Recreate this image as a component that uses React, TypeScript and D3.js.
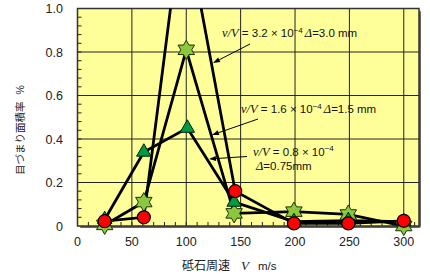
import React from "react";
import * as d3 from "d3";

// ---- data ----
const speedsCircle = [25, 61, 97, 145, 199, 249, 300];
const valuesCircle = [0.022, 0.04, 1.45, 0.16, 0.012, 0.012, 0.024]; // Δ=3.0 mm
const speedsStar = [25, 61, 100, 144, 199, 249, 300];
const valuesStar = [0.005, 0.11, 0.81, 0.058, 0.066, 0.053, 0.0]; // Δ=1.5 mm
const speedsTri = [25, 61, 101, 144, 199, 249, 300];
const valuesTri = [0.03, 0.34, 0.45, 0.11, 0.02, 0.025, 0.02]; // Δ=0.75 mm
const xTicks = [0, 50, 100, 150, 200, 250, 300];
const yTicks = [0, 0.2, 0.4, 0.6, 0.8, 1.0];
const yTickLabels = ["0", "0.2", "0.4", "0.6", "0.8", "1.0"];

const W = 430, H = 279;
const L = 77.5, R = 419, T = 8.5, B = 226;

function starPath(Ro: number) {
  const ri = Ro / Math.sqrt(3);
  const pts: [number, number][] = [];
  for (let i = 0; i < 12; i++) {
    const a = (Math.PI / 6) * i - Math.PI / 2;
    const r = i % 2 === 0 ? Ro : ri;
    pts.push([r * Math.cos(a), r * Math.sin(a)]);
  }
  return "M" + pts.map((p) => p.join(",")).join("L") + "Z";
}

export default function App() {
  const x = d3.scaleLinear().domain([0, 314]).range([L, R]);
  const y = d3.scaleLinear().domain([0, 1]).range([B, T]);
  const line = d3.line<[number, number]>().x((d) => x(d[0])).y((d) => y(d[1]));
  const zip = (a: number[], b: number[]) => a.map((v, i) => [v, b[i]] as [number, number]);
  const circ = zip(speedsCircle, valuesCircle);
  const star = zip(speedsStar, valuesStar);
  const tri = zip(speedsTri, valuesTri);
  const minorY = d3.range(0.04, 1.0, 0.04);
  const minorX = d3.range(10, 311, 10);
  const triPath = d3.symbol().type(d3.symbolTriangle).size(90)() as string;
  const sp = starPath(9.5);
  const sans = "Arial, 'Liberation Sans', sans-serif";
  const serif = "'Liberation Serif', 'DejaVu Serif', serif";

  const arrow = (x1: number, y1: number, x2: number, y2: number) => {
    const ang = Math.atan2(y2 - y1, x2 - x1);
    const len = 7, wd = 2.5;
    const bx = x2 - len * Math.cos(ang), by = y2 - len * Math.sin(ang);
    const px = -Math.sin(ang) * wd, py = Math.cos(ang) * wd;
    return (
      <g>
        <line x1={x1} y1={y1} x2={bx} y2={by} stroke="#000" strokeWidth={1} />
        <path d={`M${x2},${y2}L${bx + px},${by + py}L${bx - px},${by - py}Z`} fill="#000" />
      </g>
    );
  };

  return (
    <svg width={W} height={H} style={{ position: "absolute", left: 0, top: 0, background: "#fff" }}>
      <defs>
        <clipPath id="plot">
          <rect x={L} y={T} width={R - L} height={B - T} />
        </clipPath>
      </defs>
      {/* shadow + background */}
      <rect x={L + 2} y={T + 2} width={R - L} height={B - T} fill="#666" rx={2} />
      <rect x={L} y={T} width={R - L} height={B - T} fill="#FFFF99" />
      {/* grid */}
      {xTicks.filter((t) => t > 0).map((t) => (
        <line key={"gx" + t} x1={x(t)} x2={x(t)} y1={T} y2={B} stroke="#222" strokeWidth={1} />
      ))}
      {yTicks.filter((t) => t > 0 && t < 1).map((t) => (
        <line key={"gy" + t} x1={L} x2={R} y1={y(t)} y2={y(t)} stroke="#222" strokeWidth={1} />
      ))}
      {/* minor ticks */}
      {minorY.map((t) => (
        <line key={"my" + t} x1={L} x2={L + 4} y1={y(t)} y2={y(t)} stroke="#222" strokeWidth={1} />
      ))}
      {minorX.map((t) => (
        <line key={"mx" + t} x1={x(t)} x2={x(t)} y1={B} y2={B - 4} stroke="#222" strokeWidth={1} />
      ))}
      <rect x={L} y={T} width={R - L} height={B - T} fill="none" stroke="#333" strokeWidth={1.5} />
      {/* data lines */}
      <g clipPath="url(#plot)" fill="none" stroke="#000" strokeWidth={2.8} strokeLinejoin="miter">
        <path d={line(circ) as string} />
        <path d={line(star) as string} />
        <path d={line(tri) as string} />
      </g>
      {/* markers */}
      {star.map((d, i) => (
        <path key={"s" + i} d={sp} transform={`translate(${x(d[0])},${y(d[1])})`} fill="#8DC63F" stroke="#1a3300" strokeWidth={1} />
      ))}
      {tri.map((d, i) => (
        <path key={"t" + i} d={triPath} transform={`translate(${x(d[0])},${y(d[1])})`} fill="#009944" stroke="#002200" strokeWidth={1} />
      ))}
      {circ.filter((d) => d[1] <= 1).map((d, i) => (
        <circle key={"c" + i} cx={x(d[0])} cy={y(d[1])} r={6.5} fill="#FF0000" stroke="#000" strokeWidth={1.2} />
      ))}
      {/* tick labels */}
      {xTicks.map((t) => (
        <text key={"xl" + t} x={x(t)} y={246} textAnchor="middle" fontFamily={sans} fontSize={12.5} fill="#222">{t}</text>
      ))}
      {yTicks.map((t, i) => (
        <text key={"yl" + t} x={63} y={y(t) + 4.5} textAnchor="end" fontFamily={sans} fontSize={12.5} fill="#222">{yTickLabels[i]}</text>
      ))}
      {/* axis titles */}
      <text x={182} y={270} fontFamily="'Noto Sans CJK JP', sans-serif" fontSize={12} fill="#222">
        砥石周速
        <tspan fontFamily={serif} fontStyle="italic" fontSize={13} dx={11}>V</tspan>
        <tspan fontFamily={sans} fontSize={11.5} dx={9}>m/s</tspan>
      </text>
      <text transform="translate(24,130) rotate(-90)" textAnchor="middle" fontFamily="'Noto Sans CJK JP', sans-serif" fontSize={10.5} fill="#222">
        目づまり面積率
        <tspan dx={7} fontFamily={sans}>%</tspan>
      </text>
      {/* annotations */}
      <g fontFamily={sans} fontSize={11.5} fill="#111">
        <text x={222} y={37}>
          <tspan fontFamily={serif} fontStyle="italic" fontSize={12.5}>ν/V</tspan> = 3.2 × 10
          <tspan fontSize={8} dy={-4.5}>−4</tspan>
          <tspan dy={4.5} dx={2} fontFamily={serif} fontStyle="italic" fontSize={12.5}>Δ</tspan>=3.0 mm
        </text>
        <text x={241} y={113}>
          <tspan fontFamily={serif} fontStyle="italic" fontSize={12.5}>ν/V</tspan> = 1.6 × 10
          <tspan fontSize={8} dy={-4.5}>−4</tspan>
          <tspan dy={4.5} dx={2} fontFamily={serif} fontStyle="italic" fontSize={12.5}>Δ</tspan>=1.5 mm
        </text>
        <text x={253} y={155.5}>
          <tspan fontFamily={serif} fontStyle="italic" fontSize={12.5}>ν/V</tspan> = 0.8 × 10
          <tspan fontSize={8} dy={-4.5}>−4</tspan>
        </text>
        <text x={256} y={170}>
          <tspan fontFamily={serif} fontStyle="italic" fontSize={12.5}>Δ</tspan>=0.75mm
        </text>
      </g>
      {arrow(250, 44, 213, 63)}
      {arrow(258, 119, 212, 135)}
      {arrow(247, 156.5, 209, 159)}
    </svg>
  );
}
